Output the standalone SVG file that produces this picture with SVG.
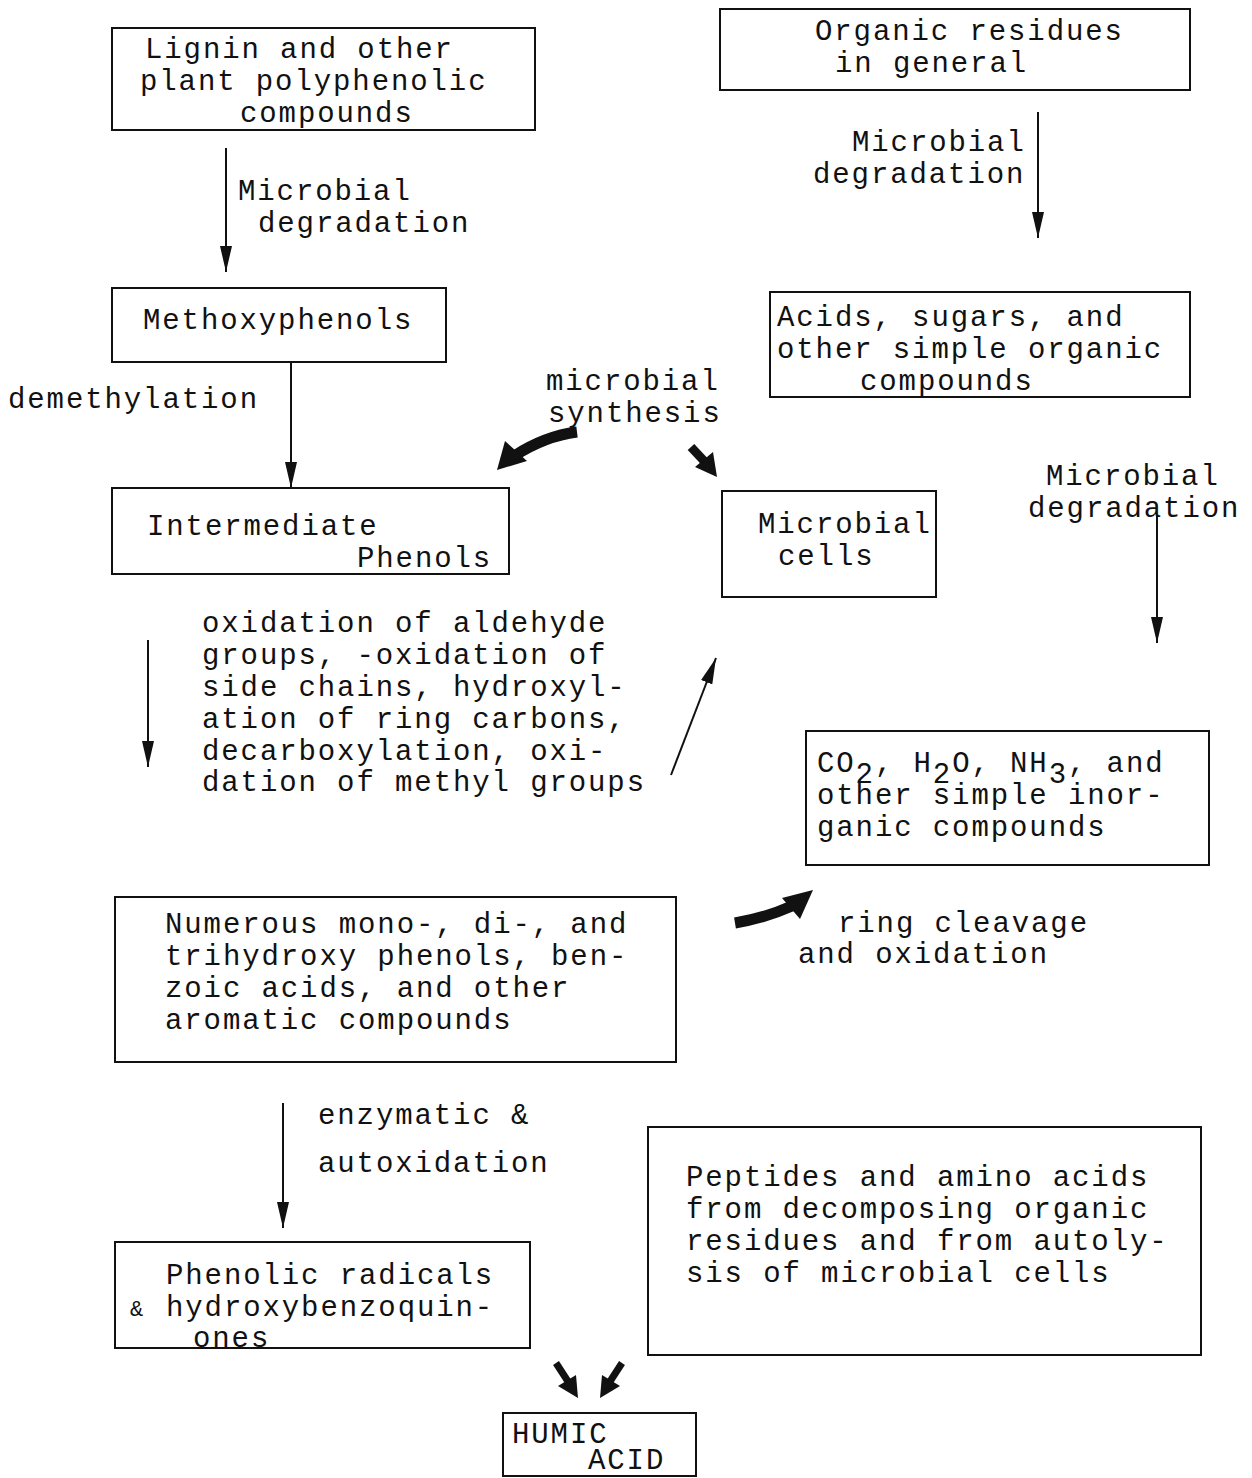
<svg xmlns="http://www.w3.org/2000/svg" width="1252" height="1478" viewBox="0 0 1252 1478">
<defs>
<style>
text{font-family:"Liberation Mono","DejaVu Sans Mono",monospace;font-size:29px;letter-spacing:1.9px;fill:#111}
.box{fill:#fff;stroke:#111;stroke-width:2}
.ln{stroke:#111;stroke-width:2;fill:none}
.thick{stroke:#111;fill:none;stroke-linecap:butt}
.head{fill:#111}
</style>
<marker id="ah2" viewBox="0 0 26 12" refX="26" refY="6" markerWidth="26" markerHeight="12" markerUnits="userSpaceOnUse" orient="auto">
<path d="M0,0 L26,6 L0,12 Z" fill="#111"/>
</marker>
</defs>
<rect width="1252" height="1478" fill="#fff"/>

<g id="connectors">
<line class="ln" x1="226" y1="148" x2="226" y2="272" marker-end="url(#ah2)"/>
<line class="ln" x1="1038" y1="112" x2="1038" y2="238" marker-end="url(#ah2)"/>
<line class="ln" x1="291" y1="362" x2="291" y2="488" marker-end="url(#ah2)"/>
<line class="ln" x1="1157" y1="515" x2="1157" y2="643" marker-end="url(#ah2)"/>
<line class="ln" x1="148" y1="640" x2="148" y2="767" marker-end="url(#ah2)"/>
<line class="ln" x1="671" y1="775" x2="716" y2="658" marker-end="url(#ah2)"/>
<line class="ln" x1="283" y1="1103" x2="283" y2="1228" marker-end="url(#ah2)"/>
<path class="thick" d="M577,432 Q545,436 514,456" stroke-width="11"/>
<polygon class="head" points="497,470 505,441 527,461"/>
<path class="thick" d="M691,447 L705,462" stroke-width="9"/>
<polygon class="head" points="717,477 695,467 713,452"/>
<path class="thick" d="M735,923 Q765,918 792,906" stroke-width="11"/>
<polygon class="head" points="813,890 782,898 800,919"/>
<path class="thick" d="M556,1363 L569,1383" stroke-width="7"/>
<polygon class="head" points="578,1398 558,1386 576,1375"/>
<path class="thick" d="M622,1363 L609,1383" stroke-width="7"/>
<polygon class="head" points="600,1398 602,1375 620,1386"/>
</g>

<g id="lignin">
<rect class="box" x="112" y="28" width="423" height="102"/>
<text x="145" y="58">Lignin and other</text>
<text x="140" y="90">plant polyphenolic</text>
<text x="240" y="122">compounds</text>
</g>

<g id="organic-residues">
<rect class="box" x="720" y="9" width="470" height="81"/>
<text x="815" y="40">Organic residues</text>
<text x="835" y="72">in general</text>
</g>

<g id="label-deg1">
<text x="238" y="200">Microbial</text>
<text x="258" y="232">degradation</text>
</g>
<g id="label-deg2">
<text x="852" y="151">Microbial</text>
<text x="813" y="183">degradation</text>
</g>

<g id="methoxyphenols">
<rect class="box" x="112" y="288" width="334" height="74"/>
<text x="143" y="329">Methoxyphenols</text>
</g>

<g id="acids">
<rect class="box" x="770" y="292" width="420" height="105"/>
<text x="777" y="326">Acids, sugars, and</text>
<text x="777" y="358">other simple organic</text>
<text x="860" y="390">compounds</text>
</g>

<g id="label-demethylation">
<text x="8" y="408">demethylation</text>
</g>
<g id="label-synthesis">
<text x="546" y="390">microbial</text>
<text x="548" y="422">synthesis</text>
</g>

<g id="intermediate">
<rect class="box" x="112" y="488" width="397" height="86"/>
<text x="147" y="535">Intermediate</text>
<text x="357" y="567">Phenols</text>
</g>

<g id="microbial-cells">
<rect class="box" x="722" y="491" width="214" height="106"/>
<text x="758" y="533">Microbial</text>
<text x="778" y="565">cells</text>
</g>

<g id="label-deg3">
<text x="1046" y="485">Microbial</text>
<text x="1028" y="517">degradation</text>
</g>

<g id="label-oxidation">
<text x="202" y="632">oxidation of aldehyde</text>
<text x="202" y="664">groups, -oxidation of</text>
<text x="202" y="696">side chains, hydroxyl-</text>
<text x="202" y="728">ation of ring carbons,</text>
<text x="202" y="760">decarboxylation, oxi-</text>
<text x="202" y="791">dation of methyl groups</text>
</g>

<g id="inorganic">
<rect class="box" x="806" y="731" width="403" height="134"/>
<text x="817" y="772">CO<tspan dy="11">2</tspan><tspan dy="-11">, H</tspan><tspan dy="11">2</tspan><tspan dy="-11">O, NH</tspan><tspan dy="11">3</tspan><tspan dy="-11">, and</tspan></text>
<text x="817" y="804">other simple inor-</text>
<text x="817" y="836">ganic compounds</text>
</g>

<g id="label-ring">
<text x="838" y="932">ring cleavage</text>
<text x="798" y="963">and oxidation</text>
</g>

<g id="numerous">
<rect class="box" x="115" y="897" width="561" height="165"/>
<text x="165" y="933">Numerous mono-, di-, and</text>
<text x="165" y="965">trihydroxy phenols, ben-</text>
<text x="165" y="997">zoic acids, and other</text>
<text x="165" y="1029">aromatic compounds</text>
</g>

<g id="label-enzymatic">
<text x="318" y="1124">enzymatic &amp;</text>
<text x="318" y="1172">autoxidation</text>
</g>

<g id="peptides">
<rect class="box" x="648" y="1127" width="553" height="228"/>
<text x="686" y="1186">Peptides and amino acids</text>
<text x="686" y="1218">from decomposing organic</text>
<text x="686" y="1250">residues and from autoly-</text>
<text x="686" y="1282">sis of microbial cells</text>
</g>

<g id="phenolic-radicals">
<rect class="box" x="115" y="1242" width="415" height="106"/>
<text x="166" y="1284">Phenolic radicals</text>
<text x="130" y="1316" style="font-size:22px">&amp;</text>
<text x="166" y="1316">hydroxybenzoquin-</text>
<text x="193" y="1347">ones</text>
</g>

<g id="humic-acid">
<rect class="box" x="503" y="1413" width="193" height="63"/>
<text x="512" y="1443">HUMIC</text>
<text x="588" y="1469">ACID</text>
</g>
</svg>
